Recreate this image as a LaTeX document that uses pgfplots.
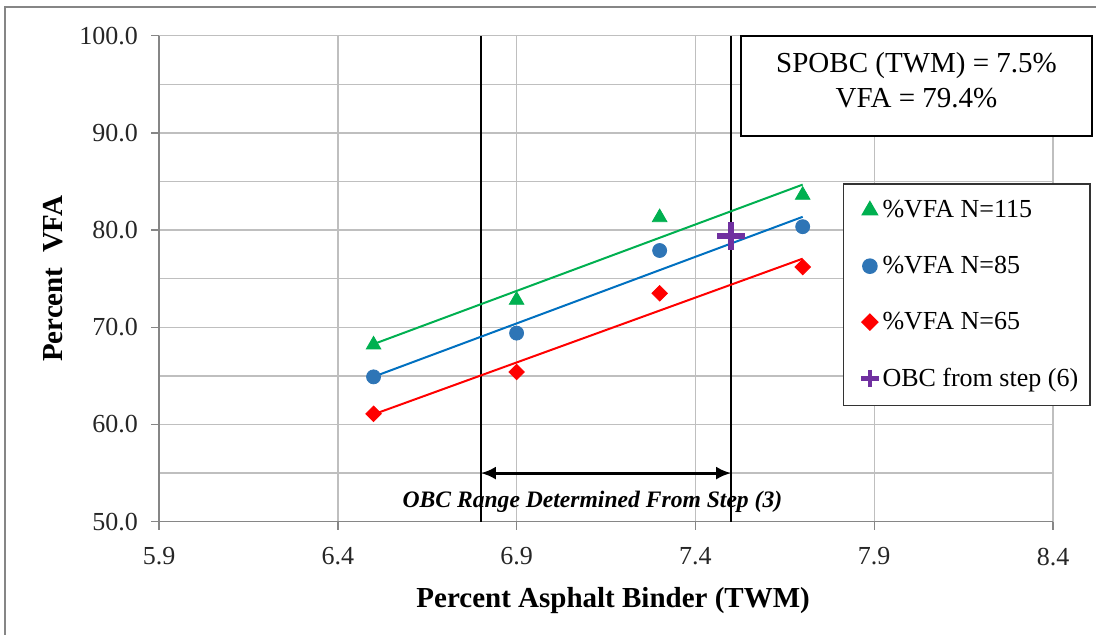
\documentclass[border=0pt]{standalone}
\usepackage{pgfplots}
\pgfplotsset{compat=1.18}
\usepackage{pgfplotstable}
\usepackage{fontspec}
\setmainfont{Liberation Serif}
\usetikzlibrary{arrows.meta}

\definecolor{gridgray}{HTML}{BFBFBF}
\definecolor{axgray}{HTML}{868686}
\definecolor{xlgreen}{HTML}{00B050}
\definecolor{xlblue}{HTML}{2E75B6}
\definecolor{xlbluel}{HTML}{0070C0}
\definecolor{xlred}{HTML}{FF0000}
\definecolor{xlpurple}{HTML}{7030A0}

\pgfplotstableread{
x g b r
6.5 68.2 64.9 61.1
6.9 72.8 69.4 65.4
7.3 81.3 77.9 73.5
7.7 83.6 80.35 76.2
}\vfa

\pgfplotstableread{
x y
7.5 79.4
}\obc

\begin{document}
\begin{tikzpicture}
\useasboundingbox (0,0) rectangle (548pt,317.5pt);
\draw[axgray, line width=1pt] (2.5pt,0) -- (2.5pt,314pt) -- (548pt,314pt);
\begin{axis}[
  at={(79.5pt,56.65pt)}, anchor=south west,
  scale only axis, width=447pt, height=243pt,
  xmin=5.9, xmax=8.4, ymin=50, ymax=100,
  xtick={5.9,6.4,6.9,7.4,7.9,8.4},
  ytick={50,60,70,80,90,100},
  minor ytick={55,65,75,85,95},
  xmajorgrids, ymajorgrids, yminorgrids,
  grid style={gridgray, line width=0.7pt},
  minor grid style={gridgray, line width=0.7pt},
  axis x line*=bottom, axis y line*=left,
  axis line style={axgray, line width=0.7pt, -},
  every outer x axis line/.append style={-},
  every outer y axis line/.append style={-},
  tick align=outside, major tick length=4pt, minor tick length=0pt,
  tick style={axgray, line width=0.7pt},
  /pgf/number format/.cd, fixed, fixed zerofill, precision=1, assume math mode=true,
  /pgfplots/.cd,
  ticklabel style={font=\fontsize{13}{15}\selectfont, text=black!85},
  xticklabel style={yshift=-5.5pt},
  yticklabel style={xshift=-3pt},
  xlabel={Percent Asphalt Binder (TWM)},
  ylabel={Percent\ \ VFA},
  xlabel style={font=\bfseries\fontsize{14.5}{17}\selectfont, at={(axis description cs:0.508,-0.163)}, anchor=center},
  ylabel style={font=\bfseries\fontsize{14.5}{17}\selectfont, at={(axis description cs:-0.1186,0.5)}, anchor=center},
  legend style={at={(1.0425,0.697)}, anchor=north east, draw=black!80, line width=0.8pt, fill=white,
    font=\fontsize{13}{15}\selectfont, row sep=13.8pt, inner xsep=4pt, inner ysep=6.2pt,
    cells={anchor=west}},
  legend image code/.code={\path (-4.5pt,0);\draw[mark repeat=2,mark phase=2] plot coordinates {(0cm,0cm) (0.15cm,0cm) (0.3cm,0cm)};},
  clip=false,
]
% range boundary lines
\addplot[black, line width=1pt, forget plot] coordinates {(6.8,50) (6.8,100)};
\addplot[black, line width=1pt, forget plot] coordinates {(7.5,50) (7.5,100)};
% trend lines
\addplot[xlgreen, line width=1pt, forget plot] table[x=x, y={create col/linear regression={y=g}}] {\vfa};
\addplot[xlbluel, line width=1pt, forget plot] table[x=x, y={create col/linear regression={y=b}}] {\vfa};
\addplot[xlred, line width=1pt, forget plot] table[x=x, y={create col/linear regression={y=r}}] {\vfa};
% data
\addplot[only marks, mark=triangle*, mark size=4.2pt, xlgreen, mark options={fill=xlgreen, draw=xlgreen}] table[x=x, y=g] {\vfa};
\addlegendentry{\%VFA N=115}
\addplot[only marks, mark=*, mark size=3.5pt, xlblue, mark options={fill=xlblue, draw=xlblue}] table[x=x, y=b] {\vfa};
\addlegendentry{\%VFA N=85}
\addplot[only marks, mark=square*, mark size=2.75pt, xlred, mark options={fill=xlred, draw=xlred, rotate=45}] table[x=x, y=r] {\vfa};
\addlegendentry{\%VFA N=65}
\addplot[only marks, mark=+, mark size=7pt, xlpurple, mark options={line width=2.7pt, line cap=butt},
  legend image post style={mark size=4.3pt, mark options={line width=2.3pt}}] table[x=x, y=y] {\obc};
\addlegendentry{OBC from step (6)}
% range arrow and text
\draw[{Latex[length=7.5pt,width=6.5pt]}-{Latex[length=7.5pt,width=6.5pt]}, line width=1.5pt] (axis cs:6.8,55) -- (axis cs:7.5,55);
\node[font=\bfseries\itshape\fontsize{11.8}{13}\selectfont] at (axis cs:7.112,52.0) {OBC Range Determined From Step (3)};
\end{axis}
\draw[black, line width=1pt, fill=white] (370.5pt,249.5pt) rectangle (546pt,299.5pt);
\node[align=center, font=\fontsize{14.5}{17.5}\selectfont, inner sep=0pt] at (458.25pt,277.5pt) {SPOBC (TWM) = 7.5\%\\VFA = 79.4\%};
\end{tikzpicture}
\end{document}
